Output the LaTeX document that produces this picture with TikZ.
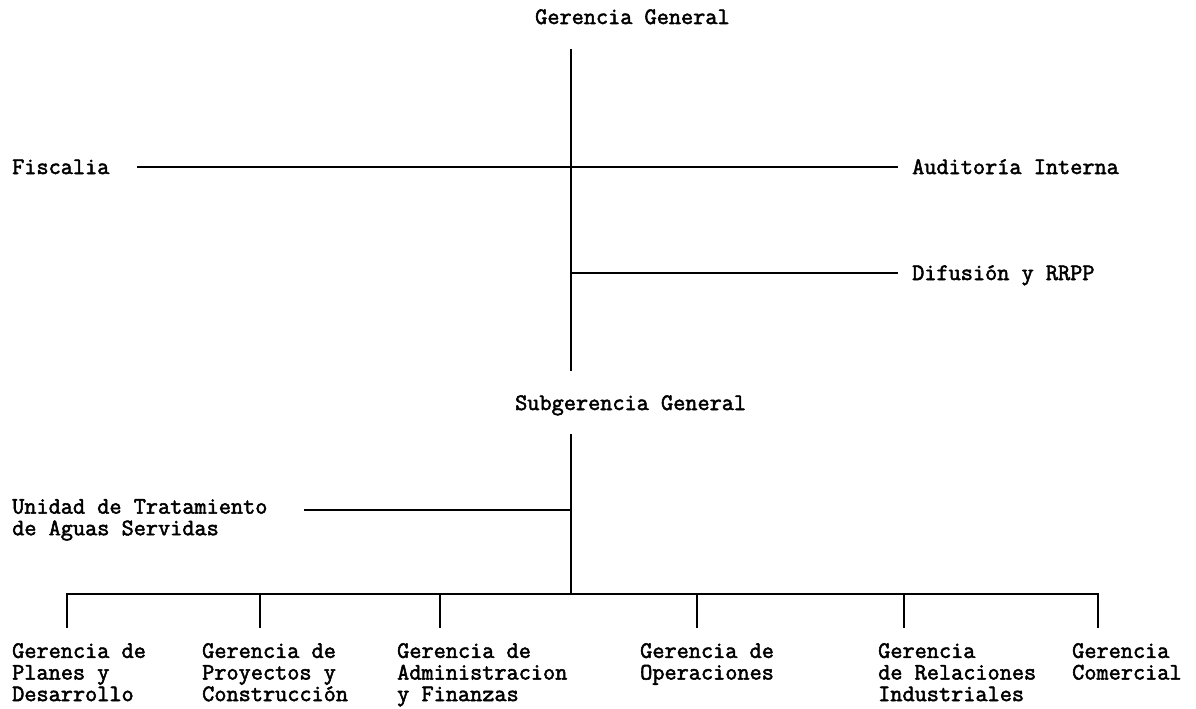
\documentclass[tikz,border=0pt]{standalone}
\usepackage{fontspec}
\newfontfamily\orgfont{Latin Modern Mono}[FakeBold=2.2]
\begin{document}
\begin{tikzpicture}[x=1pt,y=-1pt,
  lbl/.style={inner sep=0pt,anchor=base west,align=left,
    font=\orgfont\fontsize{23.6}{21.6}\selectfont},
  mlbl/.style={lbl,anchor=north west},
  conn/.style={line width=1.6pt,line cap=rect}]
\useasboundingbox[fill=white] (0,0) rectangle (1196,709);
% nodes
\node[lbl] (gg) at (535,24) {Gerencia General};
\node[lbl] (fis) at (12,174) {Fiscalia};
\node[lbl] (aud) at (912,174) {Auditoría Interna};
\node[lbl] (dif) at (912,280) {Difusión y RRPP};
\node[lbl] (sg) at (515,410) {Subgerencia General};
\node[mlbl] (uta) at (12,499) {Unidad de Tratamiento\\de Aguas Servidas};
\node[mlbl] (gpd) at (12,643) {Gerencia de\\Planes y\\Desarrollo};
\node[mlbl] (gpc) at (202,643) {Gerencia de\\Proyectos y\\Construcción};
\node[mlbl] (gaf) at (397,643) {Gerencia de\\Administracion\\y Finanzas};
\node[mlbl] (gop) at (640,643) {Gerencia de\\Operaciones};
\node[mlbl] (gri) at (878,643) {Gerencia\\de Relaciones\\Industriales};
\node[mlbl] (gco) at (1072,643) {Gerencia\\Comercial};
% coordinates
\coordinate (gtop) at (571,50);
\coordinate (gbot) at (571,370);
\coordinate (fisR) at (138,167);
\coordinate (audL) at (897,167);
\coordinate (jd) at (571,273);
\coordinate (difL) at (897,273);
\coordinate (stop) at (571,435);
\coordinate (sbot) at (571,594);
\coordinate (utaR) at (305,510);
\coordinate (ju) at (571,510);
\coordinate (busL) at (67,594);
\coordinate (busR) at (1098,594);
\coordinate (d1) at (67,627);
\coordinate (d2) at (260,627);
\coordinate (d3) at (440,627);
\coordinate (d4) at (697,627);
\coordinate (d5) at (904,627);
\coordinate (d6) at (1098,627);
% connectors
\draw[conn] (gtop) -- (gbot);
\draw[conn] (fisR) -- (audL);
\draw[conn] (jd) -- (difL);
\draw[conn] (stop) -- (sbot);
\draw[conn] (utaR) -- (ju);
\draw[conn] (busL) -- (busR);
\foreach \d in {d1,d2,d3,d4,d5,d6}
  \draw[conn] (\d |- busL) -- (\d);
\end{tikzpicture}
\end{document}
